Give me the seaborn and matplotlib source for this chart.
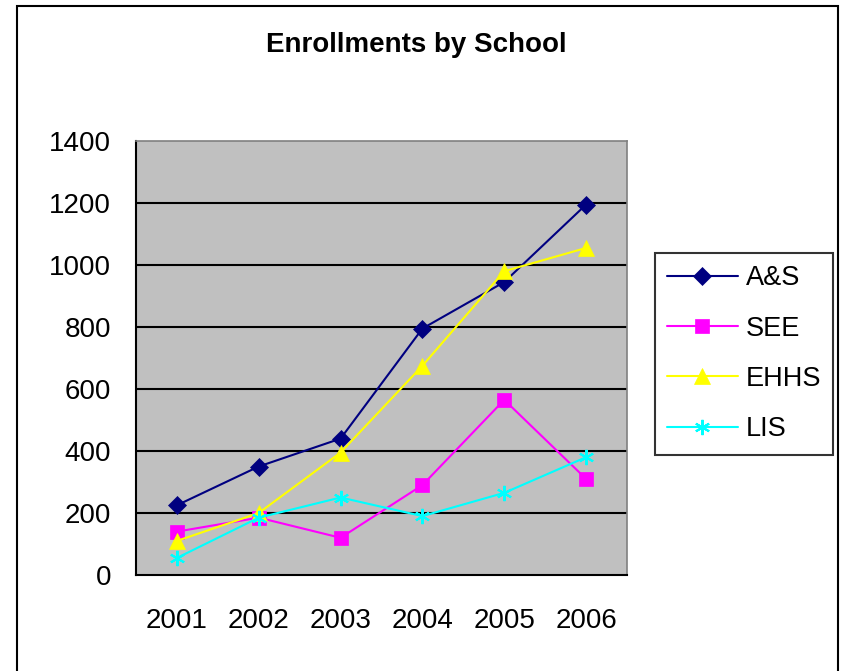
import numpy as np
import pandas as pd
import matplotlib
matplotlib.use("Agg")
import matplotlib.pyplot as plt
import seaborn as sns
from matplotlib.patches import Rectangle

years = ["2001", "2002", "2003", "2004", "2005", "2006"]
a_s = [225, 350, 440, 795, 945, 1195]
see = [140, 185, 120, 290, 565, 310]
ehhs = [110, 200, 395, 675, 980, 1055]
lis = [55, 185, 250, 190, 265, 380]

schools = ["A&S", "SEE", "EHHS", "LIS"]
colors = ["#000080", "#FF00FF", "#FFFF00", "#00FFFF"]
markers = ["D", "s", "^", (6, 2, 0)]
msizes = [9, 10, 11, 11]

df = pd.DataFrame({"year": years, "A&S": a_s, "SEE": see, "EHHS": ehhs, "LIS": lis})
df["pos"] = np.arange(len(years))

sns.set_style("white")
plt.rcParams["font.family"] = ["Liberation Sans", "DejaVu Sans"]
plt.rcParams["text.color"] = "black"
plt.rcParams["xtick.color"] = "black"
plt.rcParams["ytick.color"] = "black"

fig = plt.figure(figsize=(8.44, 6.71), dpi=100)
ax = fig.add_axes([136 / 844, 1 - 575 / 671, (627 - 136) / 844, (575 - 141) / 671])
ax.set_facecolor("#C0C0C0")

# gridlines
for v in range(200, 1400, 200):
    ax.axhline(v, color="black", lw=1.5, zorder=1)

for name, c, m, ms in zip(schools, colors, markers, msizes):
    sns.lineplot(data=df, x="pos", y=name, ax=ax, color=c, marker=m,
                 markersize=ms, markeredgecolor=c, markeredgewidth=1.5 if name == "LIS" else 0.5,
                 lw=1.5, label=name, zorder=3, legend=False)

ax.set_xlim(-0.5, 5.5)
ax.set_ylim(0, 1400)
ax.set_yticks(range(0, 1401, 200))
ax.set_xticks(np.arange(-0.5, 6, 1))
ax.set_xticklabels([])
ax.set_xticks(df["pos"], minor=True)
ax.set_xticklabels(years, minor=True)
ax.tick_params(axis="x", which="major", direction="out", length=7, width=1.3, color="black")
ax.tick_params(axis="x", which="minor", length=0, pad=24, labelsize=20, labelcolor="black")
ax.tick_params(axis="y", direction="out", length=7, width=1.3, color="black", pad=11,
               labelsize=20, labelcolor="black")
ax.set_xlabel("")
ax.set_ylabel("")

for side in ["left", "bottom"]:
    ax.spines[side].set_color("black")
    ax.spines[side].set_linewidth(1.5)
for side in ["top", "right"]:
    ax.spines[side].set_color("#808080")
    ax.spines[side].set_linewidth(1.2)

fig.text(0.5 - 6 / 844, 1 - 45 / 671, "Enrollments by School", ha="center", va="center",
         fontsize=20, fontweight="bold", color="black")

handles, labels = ax.get_legend_handles_labels()
leg = fig.legend(handles, labels, loc="upper left", bbox_to_anchor=(655 / 844, 1 - 253 / 671),
                 frameon=True, fancybox=False, edgecolor="black", fontsize=19.5,
                 handlelength=2.6, labelspacing=0.9, borderpad=0.45, handletextpad=0.3,
                 borderaxespad=0)
leg.get_frame().set_linewidth(1.5)
for t in leg.get_texts():
    t.set_color("black")

# outer chart frame
fig.patches.append(Rectangle((17 / 844, -0.05), (838 - 17) / 844, 1 - 6 / 671 + 0.05,
                             transform=fig.transFigure, fill=False, edgecolor="black",
                             lw=1.5, clip_on=False))

fig.savefig("out.png", dpi=100)
